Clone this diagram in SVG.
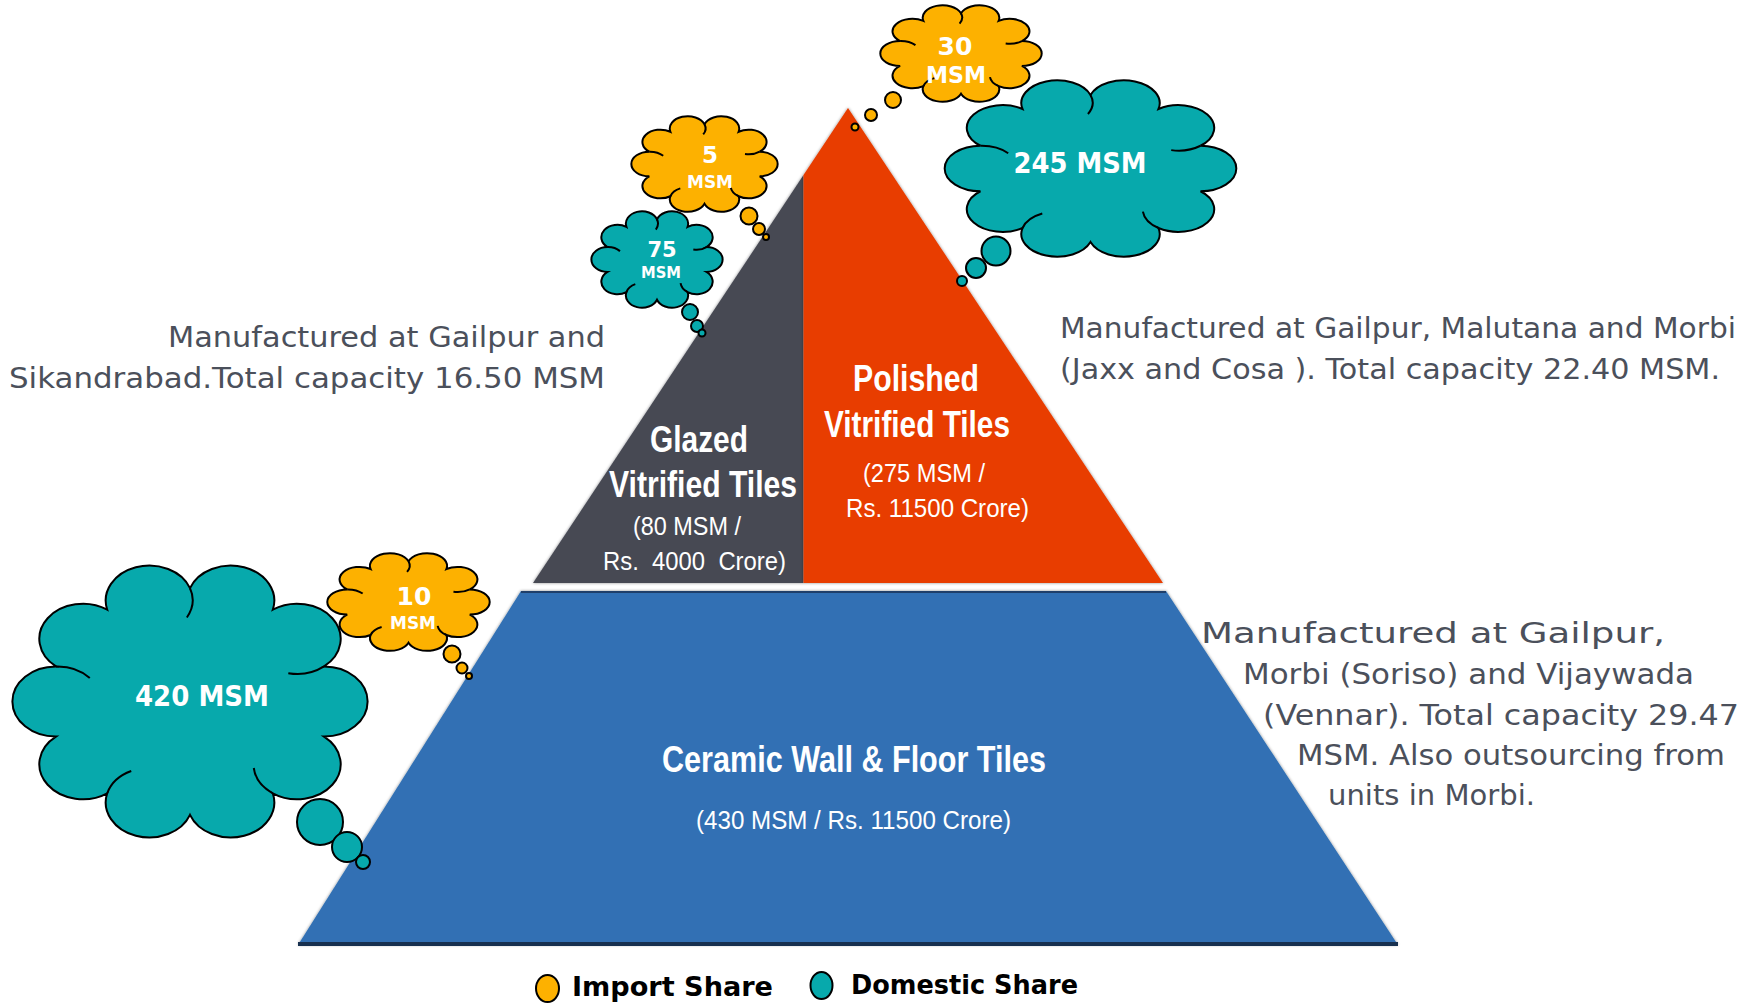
<svg xmlns="http://www.w3.org/2000/svg" xmlns:xlink="http://www.w3.org/1999/xlink" width="1751" height="1004" viewBox="0 0 1751 1004">
<style>
.body{font-family:"DejaVu Sans",Verdana,sans-serif;font-size:28px;fill:#4B505B}
.lbl{font-family:"Liberation Sans",Arial,sans-serif;font-weight:bold;font-size:36px;fill:#fff}
.sub{font-family:"Liberation Sans",Arial,sans-serif;font-size:25px;fill:#fff}
.ct{font-family:"DejaVu Sans",Verdana,sans-serif;font-weight:bold;fill:#fff;text-anchor:middle}
.leg{font-family:"DejaVu Sans",Verdana,sans-serif;font-weight:bold;font-size:27px;fill:#000}
.yel{fill:#FDB100;stroke:#000;stroke-width:2}
.teal{fill:#07A9AC;stroke:#000;stroke-width:2}
.inner{fill:none;stroke:#000;stroke-width:2}
</style>
<defs>
<path id="cloud" vector-effect="non-scaling-stroke" d="M-76.9,-25 A25,25 0 0 1 -47.5,-65.4 A25,25 0 0 1 0,-80.8 A25,25 0 0 1 47.5,-65.4 A25,25 0 0 1 76.9,-25 A25,25 0 0 1 76.9,25 A25,25 0 0 1 47.5,65.4 A25,25 0 0 1 0,80.8 A25,25 0 0 1 -47.5,65.4 A25,25 0 0 1 -76.9,25 A25,25 0 0 1 -76.9,-25 Z"/>
<path id="cloudInner" fill="none" vector-effect="non-scaling-stroke" d="M-76.9,-25 A25,25 0 0 1 -57.5,-16.8 M0,-80.8 A25,25 0 0 1 -1.8,-59.9 M76.9,-25 A25,25 0 0 1 56.4,-20.2 M47.5,65.4 A25,25 0 0 1 36.6,47.4 M-47.5,65.4 A25,25 0 0 1 -33.7,49.5"/>
<filter id="soft" x="-5%" y="-5%" width="110%" height="110%">
<feDropShadow dx="0" dy="0" stdDeviation="1.6" flood-color="#000" flood-opacity="0.45"/>
</filter>
</defs>
<rect width="1751" height="1004" fill="#fff"/>

<g id="pyramid-ceramic">
<polygon points="521,591 1166,591 1398,945 298,945" fill="#3070B4" filter="url(#soft)"/>
<line x1="521" y1="592" x2="1166" y2="592" stroke="#1f3f6a" stroke-width="2"/>
<line x1="298" y1="944" x2="1398" y2="944" stroke="#17304f" stroke-width="4"/>
<text class="lbl" x="854" y="772" text-anchor="middle" textLength="384" lengthAdjust="spacingAndGlyphs">Ceramic Wall &amp; Floor Tiles</text>
<text class="sub" x="853.5" y="829" text-anchor="middle" textLength="315" lengthAdjust="spacingAndGlyphs">(430 MSM / Rs. 11500 Crore)</text>
</g>

<g id="pyramid-glazed">
<polygon points="803.5,175 803.5,583 533,583" fill="#474953" filter="url(#soft)"/>
<text class="lbl" x="699" y="452" text-anchor="middle" textLength="98" lengthAdjust="spacingAndGlyphs">Glazed</text>
<text class="lbl" x="703" y="497" text-anchor="middle" textLength="188" lengthAdjust="spacingAndGlyphs">Vitrified Tiles</text>
<text class="sub" x="687" y="535" text-anchor="middle" textLength="108" lengthAdjust="spacingAndGlyphs">(80 MSM /</text>
<text class="sub" x="694.5" y="570" text-anchor="middle" textLength="183" lengthAdjust="spacingAndGlyphs" xml:space="preserve">Rs.  4000  Crore)</text>
</g>

<g id="pyramid-polished">
<polygon points="848,108 1163,583 803.5,583 803.5,175" fill="#E83D00" filter="url(#soft)"/>
<text class="lbl" x="916" y="391" text-anchor="middle" textLength="126" lengthAdjust="spacingAndGlyphs">Polished</text>
<text class="lbl" x="917" y="437" text-anchor="middle" textLength="186" lengthAdjust="spacingAndGlyphs">Vitrified Tiles</text>
<text class="sub" x="924" y="482" text-anchor="middle" textLength="122" lengthAdjust="spacingAndGlyphs">(275 MSM /</text>
<text class="sub" x="937.5" y="517" text-anchor="middle" textLength="183" lengthAdjust="spacingAndGlyphs">Rs. 11500 Crore)</text>
</g>

<g id="text-glazed">
<text class="body" x="168" y="347" textLength="437" lengthAdjust="spacingAndGlyphs">Manufactured at Gailpur and</text>
<text class="body" x="9" y="388" textLength="596" lengthAdjust="spacingAndGlyphs">Sikandrabad.Total capacity 16.50 MSM</text>
</g>

<g id="text-polished">
<text class="body" x="1060" y="338" textLength="676" lengthAdjust="spacingAndGlyphs">Manufactured at Gailpur, Malutana and Morbi</text>
<text class="body" x="1060" y="379" textLength="660" lengthAdjust="spacingAndGlyphs">(Jaxx and Cosa ). Total capacity 22.40 MSM.</text>
</g>

<g id="text-ceramic">
<text class="body" x="1201" y="643" textLength="464" lengthAdjust="spacingAndGlyphs">Manufactured at Gailpur,</text>
<text class="body" x="1243" y="684" textLength="451" lengthAdjust="spacingAndGlyphs">Morbi (Soriso) and Vijaywada</text>
<text class="body" x="1263" y="725" textLength="476" lengthAdjust="spacingAndGlyphs">(Vennar). Total capacity 29.47</text>
<text class="body" x="1297" y="765" textLength="428" lengthAdjust="spacingAndGlyphs">MSM. Also outsourcing from</text>
<text class="body" x="1328" y="805" textLength="207" lengthAdjust="spacingAndGlyphs">units in Morbi.</text>
</g>

<g id="cloud-30">
<use xlink:href="#cloud" class="yel" transform="translate(961,53.5) scale(0.792,0.498)"/>
<use xlink:href="#cloudInner" class="inner" transform="translate(961,53.5) scale(0.792,0.498)"/>
<text class="ct" x="955" y="55" font-size="25">30</text>
<text class="ct" x="956" y="83" font-size="23" textLength="60" lengthAdjust="spacingAndGlyphs">MSM</text>
</g>

<g id="cloud-245">
<use xlink:href="#cloud" class="teal" transform="translate(1090.5,168.5) scale(1.431,0.91)"/>
<use xlink:href="#cloudInner" class="inner" transform="translate(1090.5,168.5) scale(1.431,0.91)"/>
<text class="ct" x="1080" y="173" font-size="28" textLength="133" lengthAdjust="spacingAndGlyphs">245 MSM</text>
</g>

<g id="cloud-5">
<use xlink:href="#cloud" class="yel" transform="translate(704.5,164) scale(0.718,0.493)"/>
<use xlink:href="#cloudInner" class="inner" transform="translate(704.5,164) scale(0.718,0.493)"/>
<text class="ct" x="710" y="163" font-size="23">5</text>
<text class="ct" x="710" y="188" font-size="17" textLength="46" lengthAdjust="spacingAndGlyphs">MSM</text>
</g>

<g id="cloud-75">
<use xlink:href="#cloud" class="teal" transform="translate(657,259.5) scale(0.644,0.498)"/>
<use xlink:href="#cloudInner" class="inner" transform="translate(657,259.5) scale(0.644,0.498)"/>
<text class="ct" x="662" y="257" font-size="21">75</text>
<text class="ct" x="661" y="278" font-size="15" textLength="40" lengthAdjust="spacingAndGlyphs">MSM</text>
</g>

<g id="cloud-420">
<use xlink:href="#cloud" class="teal" transform="translate(190,701.5) scale(1.743,1.403)"/>
<use xlink:href="#cloudInner" class="inner" transform="translate(190,701.5) scale(1.743,1.403)"/>
<text class="ct" x="202" y="706" font-size="28" textLength="134" lengthAdjust="spacingAndGlyphs">420 MSM</text>
</g>

<g id="cloud-10">
<use xlink:href="#cloud" class="yel" transform="translate(408.5,602) scale(0.797,0.504)"/>
<use xlink:href="#cloudInner" class="inner" transform="translate(408.5,602) scale(0.797,0.504)"/>
<text class="ct" x="414" y="605" font-size="25">10</text>
<text class="ct" x="413" y="629" font-size="17" textLength="46" lengthAdjust="spacingAndGlyphs">MSM</text>
</g>

<g id="connectors">
<circle class="yel" cx="893" cy="100" r="8"/>
<circle class="yel" cx="871" cy="115" r="6"/>
<circle class="yel" cx="855" cy="127" r="3.5"/>
<circle class="teal" cx="996" cy="251" r="14.5"/>
<circle class="teal" cx="976" cy="268" r="10"/>
<circle class="teal" cx="962" cy="281" r="5"/>
<circle class="yel" cx="749" cy="216" r="8.5"/>
<circle class="yel" cx="759" cy="229" r="6"/>
<circle class="yel" cx="766" cy="237" r="3"/>
<circle class="teal" cx="690" cy="312" r="8"/>
<circle class="teal" cx="697" cy="326" r="6"/>
<circle class="teal" cx="702" cy="333" r="3.5"/>
<circle class="teal" cx="320" cy="822" r="23"/>
<circle class="teal" cx="347" cy="847" r="15"/>
<circle class="teal" cx="363" cy="862" r="7"/>
<circle class="yel" cx="452" cy="654" r="8.5"/>
<circle class="yel" cx="462" cy="668" r="5.5"/>
<circle class="yel" cx="469" cy="676" r="3"/>
</g>

<g id="legend">
<ellipse class="yel" cx="547.5" cy="988.5" rx="11.5" ry="13.5"/>
<text class="leg" x="572" y="996" textLength="201" lengthAdjust="spacingAndGlyphs">Import Share</text>
<ellipse class="teal" cx="821.5" cy="985.5" rx="11" ry="13.5"/>
<text class="leg" x="851" y="993.5" textLength="227" lengthAdjust="spacingAndGlyphs">Domestic Share</text>
</g>
</svg>
